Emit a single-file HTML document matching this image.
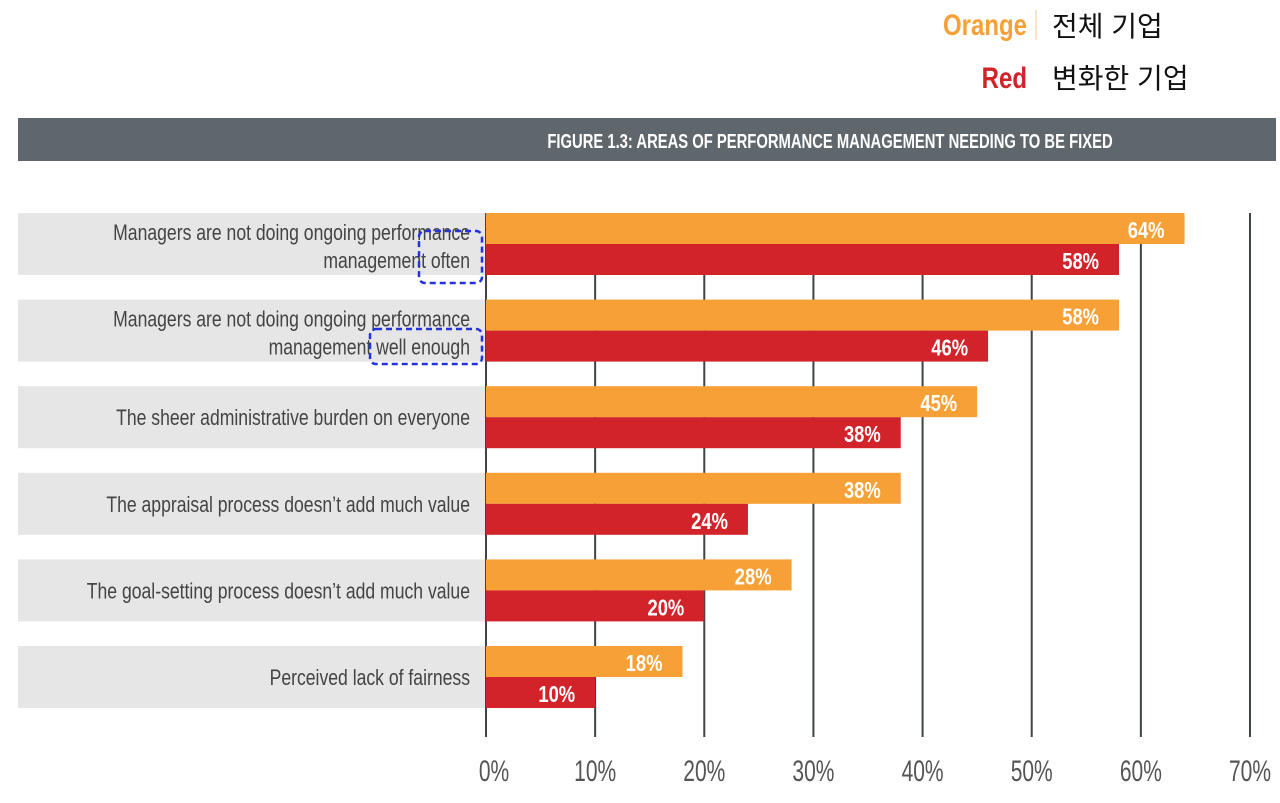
<!DOCTYPE html>
<html><head><meta charset="utf-8"><style>
body{margin:0;background:#fff;width:1280px;height:798px;overflow:hidden}
svg text{font-family:"Liberation Sans",sans-serif}
.kr{font-family:"Liberation Sans","Noto Sans CJK KR",sans-serif}
</style></head><body>
<svg id="chart" width="1280" height="798">
<g>
<text transform="translate(1027,35) scale(0.8,1)" text-anchor="end" font-size="30" font-weight="bold" fill="#f7a035">Orange</text>
<line x1="1036" y1="10" x2="1036" y2="40" stroke="#f7c98a" stroke-width="1"/>
<text class="kr" x="1052" y="36" font-size="28" fill="#111">전체 기업</text>
<text transform="translate(1027,88) scale(0.8,1)" text-anchor="end" font-size="30" font-weight="bold" fill="#d2232a">Red</text>
<text class="kr" x="1052" y="88" font-size="28" fill="#111">변화한 기업</text>
</g>
<rect x="18" y="118" width="1258" height="43" fill="#5f676c"/>
<text transform="translate(830,148) scale(0.74,1)" text-anchor="middle" font-size="20" font-weight="bold" fill="#fff">FIGURE 1.3: AREAS OF PERFORMANCE MANAGEMENT NEEDING TO BE FIXED</text>
<g id="bands"></g><g id="grid"></g><g id="bars"></g><g id="ticks"></g>
<rect x="370" y="329" width="112" height="35" rx="6" fill="none" stroke="#2233dd" stroke-width="2.5" stroke-dasharray="6,4"/>
<rect x="419" y="231" width="63" height="52" rx="6" fill="none" stroke="#2233dd" stroke-width="2.5" stroke-dasharray="6,4"/>
</svg>
<script>
const categories=[["Managers are not doing ongoing performance","management often"],["Managers are not doing ongoing performance","management well enough"],["The sheer administrative burden on everyone"],["The appraisal process doesn’t add much value"],["The goal-setting process doesn’t add much value"],["Perceived lack of fairness"]];
const allCompanies=[64,58,45,38,28,18];
const changedCompanies=[58,46,38,24,20,10];
const tickLabels=["0%","10%","20%","30%","40%","50%","60%","70%"];
const tickValues=[0,10,20,30,40,50,60,70];
const NS="http://www.w3.org/2000/svg";
const x=v=>486+v*(1250-486)/70;
const rowY=i=>213+i*86.6;
function mk(tag,attrs,parent,txt){const e=document.createElementNS(NS,tag);for(const k in attrs)e.setAttribute(k,attrs[k]);if(txt!==undefined)e.textContent=txt;parent.appendChild(e);return e;}
const bands=document.getElementById('bands'),grid=document.getElementById('grid'),bars=document.getElementById('bars'),ticks=document.getElementById('ticks');
categories.forEach((c,i)=>{
 const y=rowY(i);
 const b=mk('rect',{x:18,y:y,width:468,height:62,fill:'#e6e6e6'},bands);
 
 
 c.forEach((line,j)=>{
  const ty=y+31+(c.length===1?8:(j===0?-4:24));
  const t=mk('text',{transform:`translate(470,${ty}) scale(0.8,1)`,'text-anchor':'end','font-size':22,fill:'#444'},bands,line);
  
  
 });
});
tickValues.forEach((v,i)=>{
 const l=mk('line',{x1:x(v),y1:213,x2:x(v),y2:737,stroke:'#3d4347','stroke-width':2},grid);
 
 
 const t=mk('text',{transform:`translate(${x(v)+(i===0?8:0)},781) scale(0.7,1)`,'text-anchor':'middle','font-size':30,fill:'#555'},ticks,tickLabels[i]);
 
 
});
categories.forEach((c,i)=>{
 const y=rowY(i);
 [[allCompanies[i],'#f7a035',y,'bar-all-companies'],[changedCompanies[i],'#d2232a',y+31,'bar-changed-companies']].forEach(([v,col,yy,nm])=>{
  const r=mk('rect',{x:x(0),y:yy,width:x(v)-x(0),height:31,fill:col},bars);
  
  
  const t=mk('text',{transform:`translate(${x(v)-20},${yy+25}) scale(0.8,1)`,'text-anchor':'end','font-size':23,'font-weight':'bold',fill:'#fff'},bars,v+'%');
  
  
 });
});
</script>
</body></html>
